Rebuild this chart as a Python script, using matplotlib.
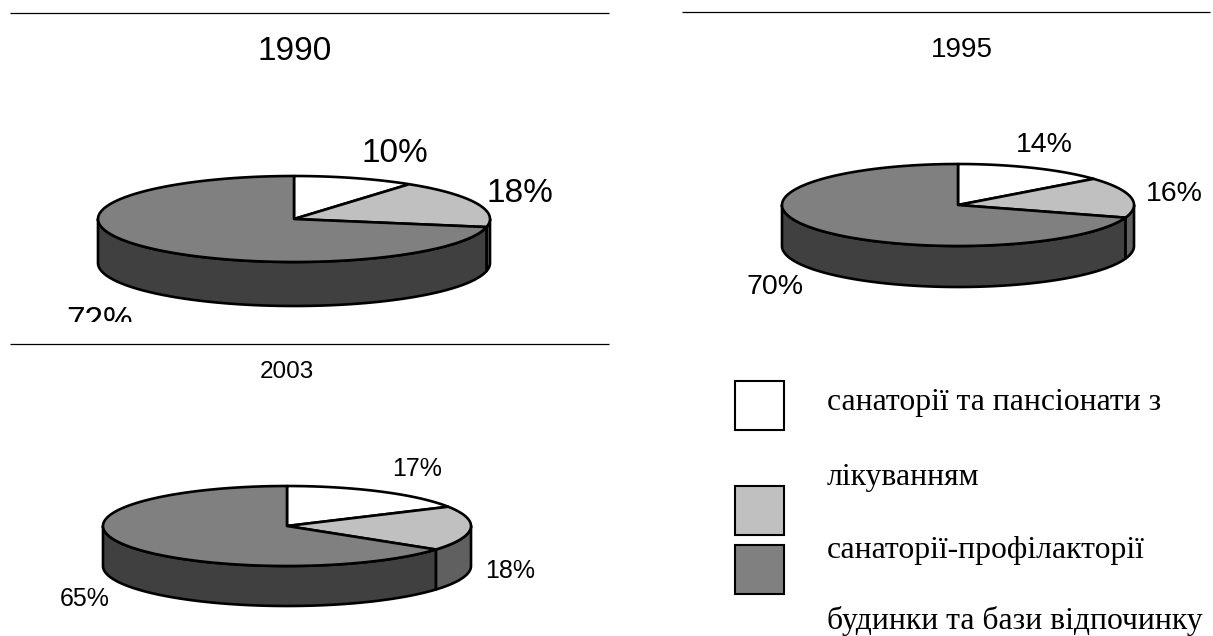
import numpy as np
import matplotlib
matplotlib.use("Agg")
import matplotlib.pyplot as plt
from matplotlib.patches import Polygon, Rectangle

W, H = 1213, 636
years = ["1990", "1995", "2003"]
values_1990 = [10, 18, 72]
values_1995 = [14, 16, 70]
values_2003 = [17, 18, 65]
legend_labels = ["санаторії та пансіонати з", "лікуванням", "санаторії-профілакторії", "будинки та бази відпочинку"]

TOP = ["#FFFFFF", "#C0C0C0", "#808080"]
SIDE = ["#808080", "#606060", "#404040"]
SANS = "Liberation Sans"
SERIF = "Liberation Serif"
LW = 1.9

fig = plt.figure(figsize=(W / 100, H / 100), dpi=100)
ax = fig.add_axes([0, 0, 1, 1])
ax.set_xlim(0, W)
ax.set_ylim(H, 0)
ax.axis("off")


def pie3d(values, cx, cy, rx, ry, depth):
    total = sum(values)
    edges = np.radians(np.cumsum([0] + list(values)) / total * 360)

    def pts(a, dy=0.0):
        return np.column_stack([cx + rx * np.sin(a), cy - ry * np.cos(a) + dy])

    # sides: only the part of every slice that faces the viewer
    for i in range(len(values)):
        a0, a1 = max(edges[i], np.pi / 2), min(edges[i + 1], 3 * np.pi / 2)
        if a1 <= a0:
            continue
        a = np.linspace(a0, a1, 200)
        ax.add_patch(Polygon(np.vstack([pts(a), pts(a[::-1], depth)]), closed=True,
                             fc=SIDE[i], ec="black", lw=LW, joinstyle="round", zorder=2))
    # top slices
    for i in range(len(values)):
        a = np.linspace(edges[i], edges[i + 1], 300)
        ax.add_patch(Polygon(np.vstack([[cx, cy], pts(a)]), closed=True,
                             fc=TOP[i], ec="black", lw=LW, joinstyle="round", zorder=3))


pie3d(values_1990, 294, 219, 196, 43, 44)
pie3d(values_1995, 958, 205, 176, 41, 41)
pie3d(values_2003, 287, 526, 184, 40, 40)

# rules
for x0, x1, y in [(10, 609, 13), (682, 1210, 12), (10, 609, 344)]:
    ax.plot([x0, x1], [y, y], color="black", lw=0.9, solid_capstyle="butt", zorder=1)

# titles
ax.text(295, 51, years[0], family=SANS, fontsize=24, ha="center", va="center")
ax.text(962, 50, years[1], family=SANS, fontsize=20, ha="center", va="center")
ax.text(287, 372, years[2], family=SANS, fontsize=17.5, ha="center", va="center")


def pct(v):
    return f"{v}%"


# labels 1990
ax.text(395, 153, pct(values_1990[0]), family=SANS, fontsize=24, ha="center", va="center")
ax.text(520, 194, pct(values_1990[1]), family=SANS, fontsize=24, ha="center", va="center")
t = ax.text(100, 322, pct(values_1990[2]), family=SANS, fontsize=24, ha="center", va="center")
t.set_clip_path(Rectangle((0, 290), 300, 32, transform=ax.transData))
t.set_clip_on(True)

# labels 1995
ax.text(1044, 145, pct(values_1995[0]), family=SANS, fontsize=20.5, ha="center", va="center")
ax.text(1174, 194, pct(values_1995[1]), family=SANS, fontsize=20.5, ha="center", va="center")
ax.text(775, 287, pct(values_1995[2]), family=SANS, fontsize=20.5, ha="center", va="center")

# labels 2003
ax.text(417, 469, pct(values_2003[0]), family=SANS, fontsize=18, ha="center", va="center")
ax.text(510, 571, pct(values_2003[1]), family=SANS, fontsize=18, ha="center", va="center")
ax.text(85, 599, pct(values_2003[2]), family=SANS, fontsize=18, ha="center", va="center")

# legend
for y, c in zip([381, 486, 545], TOP):
    ax.add_patch(Rectangle((735, y), 49, 49, fc=c, ec="black", lw=1.5, zorder=2))
for y, s in zip([410, 485, 558, 629], legend_labels):
    ax.text(827, y, s, family=SERIF, fontsize=22.8, ha="left", va="baseline")

fig.savefig("out.png", dpi=100)
